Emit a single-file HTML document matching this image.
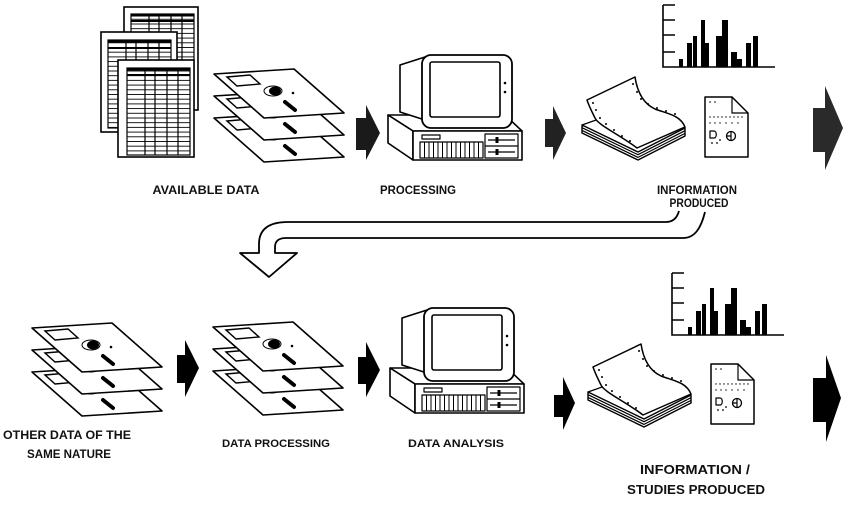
<!DOCTYPE html>
<html><head><meta charset="utf-8"><style>
html,body{margin:0;padding:0;background:#fff;}
svg{display:block;}
text{font-family:"Liberation Sans",sans-serif;font-weight:bold;fill:#111;}
</style></head><body>
<svg width="850" height="510" viewBox="0 0 850 510" xmlns="http://www.w3.org/2000/svg">
<defs>
<pattern id="rows" patternUnits="userSpaceOnUse" width="10" height="4.7">
<rect width="10" height="4.7" fill="#fff"/>
<line x1="0" y1="0.5" x2="10" y2="0.5" stroke="#000" stroke-width="0.9"/>
</pattern>
<g id="disk">
<polygon points="0,0 80,-5 130,39 50,44" fill="#fff" stroke="#000" stroke-width="1.6" stroke-linejoin="round"/>
<polygon points="13,3 36,1 46,10 23,12" fill="none" stroke="#000" stroke-width="1.4"/>
<ellipse cx="59" cy="17" rx="9" ry="5" fill="#fff" stroke="#000" stroke-width="1"/>
<ellipse cx="61" cy="17" rx="6" ry="4.5" fill="#000"/>
<circle cx="79" cy="19" r="1.3" fill="#000"/>
<line x1="71" y1="28" x2="81" y2="36" stroke="#000" stroke-width="4" stroke-linecap="round"/>
</g>
<g id="floppy">
<use href="#disk" transform="translate(0,44)"/>
<use href="#disk" transform="translate(0,22)"/>
<use href="#disk"/>
</g>
<g id="computer" stroke="#000" fill="#fff" stroke-linejoin="round">
<polygon points="388,115 505,115 522,131 413,131" stroke-width="1.6"/>
<polygon points="388,115 413,131 413,160 388,143" stroke-width="1.6"/>
<rect x="413" y="131" width="109" height="29" stroke-width="1.6"/>
<rect x="422" y="135" width="18" height="4" stroke-width="1.2"/>
<rect x="420" y="142" width="63" height="16" stroke-width="1.2"/>
<path d="M424.5,142V158M429,142V158M433.5,142V158M438,142V158M442.5,142V158M447,142V158M451.5,142V158M456,142V158M460.5,142V158M465,142V158M469.5,142V158M474,142V158M478.5,142V158" stroke-width="1"/>
<rect x="485" y="134" width="33" height="24" stroke-width="1.2"/>
<path d="M485,146H518M488,140H515M488,152H515" stroke-width="1.2"/>
<path d="M497,137V143M497,149V155" stroke-width="3"/>
<polygon points="400,65 425,57 425,120 400,112" stroke-width="1.6"/>
<rect x="422" y="55" width="90" height="73" rx="9" stroke-width="1.8"/>
<rect x="430" y="62" width="70" height="55" rx="2" stroke-width="1.6"/>
<circle cx="505" cy="83" r="1.3" fill="#000" stroke="none"/>
<circle cx="505" cy="92" r="1.3" fill="#000" stroke="none"/>
</g>
<g id="paper" stroke="#000" stroke-linejoin="round">
<polygon points="582,125 638,152 685,128 685,136 638,160 582,133" fill="#fff" stroke-width="1.4"/>
<path d="M582,127.7L638,154.7L685,130.7M582,130.4L638,157.4L685,133.4" fill="none" stroke-width="1.2"/>
<path d="M582,125 L630,108 L685,128" fill="none" stroke-width="1.2"/>
<path d="M587,100 L635,77 C637,90 642,103 655,109 C668,114 680,115 685,127 L637,148 C620,135 598,125 595,118 C592,112 589,106 587,100 Z" fill="#fff" stroke-width="1.5"/>
<g fill="#000" stroke="none">
<circle cx="593" cy="103" r="1"/><circle cx="596" cy="110" r="1"/><circle cx="600" cy="118" r="1"/><circle cx="606" cy="124" r="1"/><circle cx="614" cy="130" r="1"/><circle cx="622" cy="136" r="1"/><circle cx="630" cy="141" r="1"/>
<circle cx="633" cy="84" r="1"/><circle cx="637" cy="92" r="1"/><circle cx="641" cy="99" r="1"/><circle cx="648" cy="104" r="1"/><circle cx="657" cy="108" r="1"/><circle cx="666" cy="111" r="1"/><circle cx="675" cy="114" r="1"/>
</g>
<path d="M705,97 L732,97 L748,113 L748,157 L705,157 Z" fill="#fff" stroke-width="1.5"/>
<path d="M732,97 L732,113 L748,113" fill="none" stroke-width="1.2"/>
<g fill="#000" stroke="none">
<circle cx="710" cy="102" r="0.8"/><circle cx="715" cy="102" r="0.8"/>
<circle cx="710" cy="117" r="0.7"/><circle cx="714" cy="117" r="0.7"/><circle cx="718" cy="117" r="0.7"/><circle cx="722" cy="117" r="0.7"/><circle cx="726" cy="117" r="0.7"/><circle cx="730" cy="117" r="0.7"/><circle cx="734" cy="117" r="0.7"/><circle cx="738" cy="117" r="0.7"/><circle cx="742" cy="117" r="0.7"/>
<circle cx="710" cy="123" r="0.7"/><circle cx="715" cy="123" r="0.7"/><circle cx="720" cy="123" r="0.7"/><circle cx="726" cy="123" r="0.7"/><circle cx="732" cy="123" r="0.7"/><circle cx="738" cy="123" r="0.7"/>
<circle cx="712" cy="143" r="0.9"/><circle cx="717" cy="143" r="0.9"/><circle cx="720" cy="140" r="0.9"/>
</g>
<path d="M710,131 L710,138 L714,138 C717,138 717,131 714,131 Z" fill="#fff" stroke-width="1.2"/>
<circle cx="731" cy="136" r="4.5" fill="#fff" stroke-width="1.3"/>
<path d="M731,131.5V140.5M727,136H731" fill="none" stroke-width="1.2"/>
</g>
<g id="chart">
<path d="M663,5V67H775M663,5H675M663,20H675M663,35H675M663,52H675" fill="none" stroke="#000" stroke-width="1.6"/>
<g fill="#000">
<rect x="679" y="59" width="4" height="8"/>
<rect x="687" y="43" width="5" height="24"/>
<rect x="693" y="36" width="4" height="31"/>
<rect x="701" y="20" width="4" height="47"/>
<rect x="705" y="43" width="4" height="24"/>
<rect x="716" y="36" width="6" height="31"/>
<rect x="722" y="20" width="6" height="47"/>
<rect x="731" y="52" width="6" height="15"/>
<rect x="737" y="59" width="5" height="8"/>
<rect x="746" y="43" width="5" height="24"/>
<rect x="753" y="36" width="5" height="31"/>
</g>
</g>
</defs>

<!-- Spreadsheets -->
<g stroke="#000">
<rect x="124" y="7" width="74" height="103" fill="#fff" stroke-width="1.6"/>
<rect x="131" y="14" width="63" height="92" fill="url(#rows)" stroke-width="1.2"/>
<rect x="131" y="14" width="63" height="2.5" fill="#000" stroke="none"/>
<line x1="131" y1="21" x2="194" y2="21" stroke-width="2"/>
<path d="M149,14V106M159,14V106M171,14V106M182,14V106" stroke-width="1.2"/>

<rect x="101" y="32" width="76" height="100" fill="#fff" stroke-width="1.6"/>
<rect x="108" y="40" width="63" height="88" fill="url(#rows)" stroke-width="1.2"/>
<rect x="108" y="40" width="63" height="2.5" fill="#000" stroke="none"/>
<line x1="108" y1="48" x2="171" y2="48" stroke-width="2"/>
<path d="M126,40V128M136,40V128M148,40V128M159,40V128" stroke-width="1.2"/>

<rect x="118" y="60" width="76" height="97" fill="#fff" stroke-width="1.6"/>
<rect x="127" y="68" width="63" height="87" fill="url(#rows)" stroke-width="1.2"/>
<rect x="127" y="68" width="63" height="2.5" fill="#000" stroke="none"/>
<line x1="127" y1="75" x2="190" y2="75" stroke-width="2"/>
<path d="M145,68V155M155,68V155M167,68V155M178,68V155" stroke-width="1.2"/>
</g>

<!-- Floppies -->
<use href="#floppy" transform="translate(214,74)"/>
<use href="#floppy" transform="translate(32,328)"/>
<use href="#floppy" transform="translate(213,327)"/>

<!-- Computers -->
<use href="#computer"/>
<use href="#computer" transform="translate(2,253)"/>

<!-- Paper / doc -->
<use href="#paper"/>
<use href="#paper" transform="translate(6,267)"/>

<!-- Charts -->
<use href="#chart"/>
<use href="#chart" transform="translate(9,268)"/>

<!-- Block arrows -->
<polygon points="356,118 366,118 366,105 380,133 366,160 366,150 356,150" fill="#1a1a1a"/>
<polygon points="545,119 553,119 553,106 566,133 553,160 553,147 545,147" fill="#222"/>
<polygon points="813,108 825,108 825,86 843,128 825,170 825,152 813,152" fill="#2a2a2a"/>
<polygon points="177,355 185,355 185,340 199,368 185,397 185,383 177,383" fill="#000"/>
<polygon points="358,357 366,357 366,342 380,370 366,397 366,384 358,384" fill="#000"/>
<polygon points="554,395 563,395 563,377 575,403 563,430 563,417 554,417" fill="#000"/>
<polygon points="813,378 826,378 826,355 841,398 826,442 826,422 813,422" fill="#000"/>

<!-- Curved arrow -->
<path d="M679,211 C677,218 673,222 666,222 L288,222 C268,222 259,230 259,244 L259,253 L240,253 L269,277 L297,253 L275,253 L275,247 C275,241 279,238 286,238 L683,238 C695,238 701,228 705,212" fill="#fff" stroke="#000" stroke-width="1.8" stroke-linejoin="round"/>

<!-- Labels -->
<text x="206" y="194" font-size="12" text-anchor="middle" textLength="107" lengthAdjust="spacingAndGlyphs">AVAILABLE DATA</text>
<text x="418" y="194" font-size="11.5" text-anchor="middle" textLength="76" lengthAdjust="spacingAndGlyphs">PROCESSING</text>
<text x="697" y="194" font-size="11.5" text-anchor="middle" textLength="80" lengthAdjust="spacingAndGlyphs">INFORMATION</text>
<text x="699" y="207" font-size="11.5" text-anchor="middle" textLength="59" lengthAdjust="spacingAndGlyphs">PRODUCED</text>
<text x="67" y="439" font-size="11.5" text-anchor="middle" textLength="128" lengthAdjust="spacingAndGlyphs">OTHER DATA OF THE</text>
<text x="69" y="458" font-size="11.5" text-anchor="middle" textLength="84" lengthAdjust="spacingAndGlyphs">SAME NATURE</text>
<text x="276" y="447" font-size="11" text-anchor="middle" textLength="108" lengthAdjust="spacingAndGlyphs">DATA PROCESSING</text>
<text x="456" y="447" font-size="11" text-anchor="middle" textLength="96" lengthAdjust="spacingAndGlyphs">DATA ANALYSIS</text>
<text x="695" y="474" font-size="13" text-anchor="middle" textLength="110" lengthAdjust="spacingAndGlyphs">INFORMATION /</text>
<text x="696" y="494" font-size="13" text-anchor="middle" textLength="138" lengthAdjust="spacingAndGlyphs">STUDIES PRODUCED</text>
</svg>
</body></html>
